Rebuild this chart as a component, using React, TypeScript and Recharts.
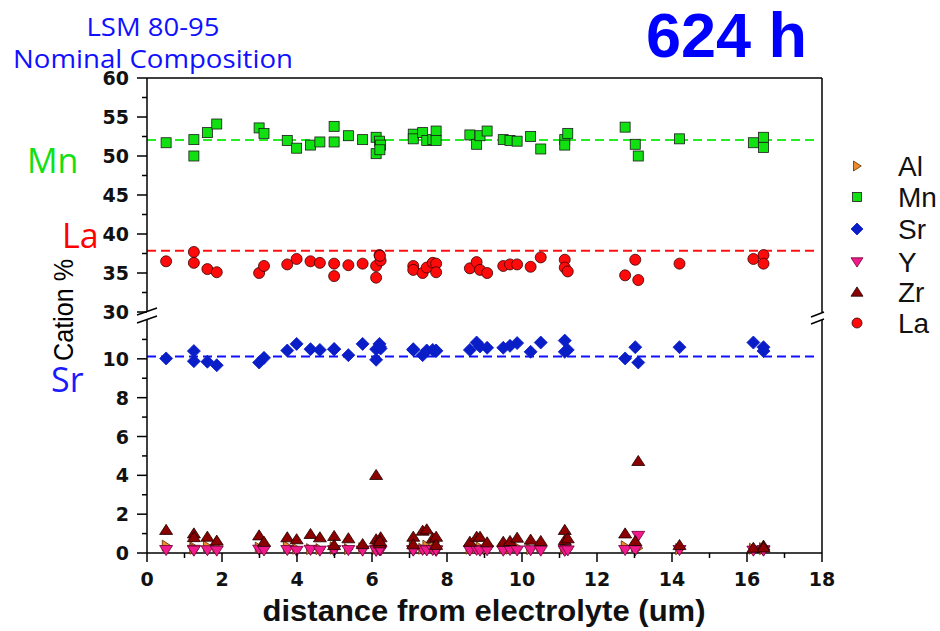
import React from 'react';
import { ScatterChart, Scatter, XAxis, YAxis, ReferenceLine } from 'recharts';

// measurement spots (um from electrolyte) and cation % per element
const distance = [
  0.51, 1.25, 1.25, 1.61, 1.86, 2.99, 3.12, 3.74, 3.99, 4.36,
  4.61, 4.99, 4.99, 5.37, 5.75, 6.11, 6.11, 6.2, 6.23, 6.21,
  7.1, 7.1, 7.35, 7.46, 7.62, 7.71, 7.71, 8.61, 8.79, 8.88,
  9.07, 9.5, 9.68, 9.87, 10.23, 10.5, 11.14, 11.14, 11.22, 12.75,
  13.02, 13.1, 14.2, 16.17, 16.44, 16.44,
];
const mn = [
  51.7, 52.1, 50.0, 53.0, 54.1, 53.6, 52.9, 52.0, 51.0, 51.4,
  51.8, 53.8, 51.8, 52.6, 52.1, 52.4, 50.3, 51.9, 51.4, 50.8,
  52.8, 52.2, 53.0, 52.0, 52.1, 53.2, 52.0, 52.7, 51.5, 52.6,
  53.2, 52.1, 52.0, 51.9, 52.5, 50.9, 52.1, 51.4, 52.9, 53.7,
  51.5, 50.0, 52.2, 51.7, 52.4, 51.1,
];
const la = [
  36.5, 37.7, 36.3, 35.5, 35.1, 35.0, 35.9, 36.1, 36.8, 36.5,
  36.3, 36.2, 34.6, 36.0, 36.2, 35.9, 34.4, 37.3, 36.6, 37.2,
  35.9, 35.4, 35.0, 35.7, 36.3, 36.2, 35.1, 35.6, 36.4, 35.4,
  35.0, 35.9, 36.1, 36.1, 35.8, 37.0, 36.7, 35.7, 35.2, 34.7,
  36.7, 34.1, 36.2, 36.8, 37.3, 36.2,
];
const sr = [
  10.02, 10.4, 9.88, 9.85, 9.67, 9.81, 10.05, 10.43, 10.77, 10.5,
  10.46, 10.5, 10.5, 10.19, 10.77, 9.95, 10.5, 10.77, 10.53, 10.62,
  10.46, 10.5, 10.19, 10.43, 10.46, 10.43, 10.4, 10.46, 10.84, 10.64,
  10.57, 10.57, 10.67, 10.81, 10.36, 10.84, 10.94, 10.36, 10.46, 10.02,
  10.6, 9.81, 10.6, 10.84, 10.6, 10.4,
];
const zr = [
  1.19, 1.01, 0.82, 0.84, 0.64, 0.91, 0.58, 0.81, 0.71, 0.98,
  0.81, 0.88, 0.41, 0.76, 0.46, 4.02, 0.71, 0.5, 0.81, 0.62,
  0.84, 0.45, 1.15, 1.22, 0.76, 0.84, 0.42, 0.58, 0.84, 0.84,
  0.55, 0.58, 0.62, 0.79, 0.69, 0.62, 1.19, 0.67, 0.76, 1.01,
  0.62, 4.74, 0.41, 0.27, 0.38, 0.29,
];
const yt = [
  0.15, 0.16, 0.12, 0.14, 0.12, 0.17, 0.13, 0.15, 0.11, 0.16,
  0.12, 0.14, 0.13, 0.15, 0.12, 0.16, 0.11, 0.14, 0.13, 0.17,
  0.15, 0.12, 0.16, 0.13, 0.15, 0.11, 0.14, 0.13, 0.16, 0.12,
  0.14, 0.12, 0.15, 0.13, 0.14, 0.12, 0.15, 0.11, 0.13, 0.15,
  0.14, 0.88, 0.15, 0.12, 0.14, 0.12,
];
const al = [
  0.38, 0.3, 0.22, 0.35, 0.3, 0.28, 0.25, 0.35, 0.22, 0.2,
  0.2, 0.22, 0.3, 0.2, 0.25, 0.28, 0.2, 0.22, 0.3, 0.25,
  0.32, 0.28, 0.22, 0.38, 0.25, 0.3, 0.2, 0.22, 0.25, 0.3,
  0.2, 0.25, 0.22, 0.3, 0.2, 0.35, 0.22, 0.25, 0.2, 0.35,
  0.3, 0.25, 0.2, 0.22, 0.2, 0.25,
];

// nominal composition of LSM 80-95
const mnNominal = 52.05;
const laNominal = 37.85;
const srNominal = 10.12;

const xTicks = [0, 1, 2, 3, 4, 5, 6, 7, 8, 9, 10, 11, 12, 13, 14, 15, 16, 17, 18];
const upperTicks = [30, 32.5, 35, 37.5, 40, 42.5, 45, 47.5, 50, 52.5, 55, 57.5, 60];
const lowerTicks = [0, 1, 2, 3, 4, 5, 6, 7, 8, 9, 10, 11];

const pts = (vals: number[]) => distance.map((x, i) => ({ x, y: vals[i] }));

type Kind = 'square' | 'circle' | 'diamond' | 'up' | 'down' | 'right';

const STYLE: Record<string, { kind: Kind; fill: string; stroke: string; size: number }> = {
  Al: { kind: 'right', fill: '#ee8a2c', stroke: '#5a3000', size: 11 },
  Mn: { kind: 'square', fill: '#11e011', stroke: '#1a1a1a', size: 10 },
  Sr: { kind: 'diamond', fill: '#0a1ec8', stroke: '#0a1ec8', size: 13 },
  Y: { kind: 'down', fill: '#f01a8c', stroke: '#6a0030', size: 13 },
  Zr: { kind: 'up', fill: '#8b0000', stroke: '#1a0000', size: 13 },
  La: { kind: 'circle', fill: '#ff0a0a', stroke: '#3a0000', size: 11 },
};

function Marker({ kind, cx, cy, size, fill, stroke }: any) {
  if (cx == null || cy == null) return null;
  const h = size / 2;
  const common = { fill, stroke, strokeWidth: 0.8 };
  switch (kind) {
    case 'square':
      return <rect x={cx - h} y={cy - h} width={size} height={size} {...common} />;
    case 'circle':
      return <circle cx={cx} cy={cy} r={h} {...common} />;
    case 'diamond':
      return <polygon points={`${cx},${cy - h} ${cx + h},${cy} ${cx},${cy + h} ${cx - h},${cy}`} {...common} />;
    case 'up':
      return <polygon points={`${cx},${cy - h * 0.85} ${cx + h},${cy + h * 0.7} ${cx - h},${cy + h * 0.7}`} {...common} />;
    case 'down':
      return <polygon points={`${cx},${cy + h * 0.85} ${cx + h},${cy - h * 0.7} ${cx - h},${cy - h * 0.7}`} {...common} />;
    default:
      return <polygon points={`${cx + h * 0.85},${cy} ${cx - h * 0.7},${cy - h} ${cx - h * 0.7},${cy + h}`} {...common} />;
  }
}

const shapeFor = (name: string) => (p: any) => <Marker {...STYLE[name]} cx={p.cx} cy={p.cy} />;

const tickFont = { fontFamily: 'DejaVu Sans', fontWeight: 700, fontSize: 19, fill: '#111' };
const isMajor = (v: number, step: number) => Math.abs(v / step - Math.round(v / step)) < 1e-6;

function YTick(props: any) {
  const { x, y, payload, step } = props;
  const v = payload.value;
  const major = isMajor(v, step);
  return (
    <g>
      <line x1={x - (major ? 10 : 5)} x2={x} y1={y} y2={y} stroke="#000" strokeWidth={1.5} />
      {major && (
        <text x={x - 18} y={y + 7} textAnchor="end" style={tickFont}>
          {v}
        </text>
      )}
    </g>
  );
}

function XTick(props: any) {
  const { x, y, payload } = props;
  const v = payload.value;
  const major = isMajor(v, 2);
  return (
    <g>
      <line x1={x} x2={x} y1={y} y2={y + (major ? 9 : 5)} stroke="#000" strokeWidth={1.5} />
      {major && (
        <text x={x} y={y + 33} textAnchor="middle" style={tickFont}>
          {v}
        </text>
      )}
    </g>
  );
}

const W = 940;
const H = 631;
const axisLine = { stroke: '#000', strokeWidth: 1.5 };
const frame = { stroke: '#000', strokeWidth: 1.5 };

const legendItems = ['Al', 'Mn', 'Sr', 'Y', 'Zr', 'La'];
const legendY = [166, 197, 229, 262, 292, 323];

export default function App() {
  const abs: React.CSSProperties = { position: 'absolute', left: 0, top: 0 };
  return (
    <div style={{ position: 'absolute', left: 0, top: 0, width: W, height: H, background: '#fff' }}>
      {/* lower segment: 0 - 12 */}
      <div style={abs}>
        <ScatterChart width={W} height={H} margin={{ top: 320, right: 118, bottom: 18, left: 87 }}>
          <XAxis
            type="number"
            dataKey="x"
            domain={[0, 18]}
            ticks={xTicks}
            interval={0}
            height={60}
            tickSize={0}
            tickMargin={0}
            tickLine={false}
            axisLine={axisLine}
            tick={(p: any) => <XTick {...p} />}
          />
          <YAxis
            type="number"
            dataKey="y"
            domain={[0, 12]}
            ticks={lowerTicks}
            interval={0}
            width={60}
            tickSize={0}
            tickMargin={0}
            tickLine={false}
            axisLine={axisLine}
            tick={(p: any) => <YTick {...p} step={2} />}
          />
          <ReferenceLine x={18} {...frame} />
          <ReferenceLine
            segment={[{ x: 0, y: srNominal }, { x: 17.8, y: srNominal }]}
            stroke="#1010ff"
            strokeWidth={2}
            strokeDasharray="9 5"
          />
          <Scatter name="Al" data={pts(al)} shape={shapeFor('Al')} isAnimationActive={false} />
          <Scatter name="Sr" data={pts(sr)} shape={shapeFor('Sr')} isAnimationActive={false} />
          <Scatter name="Y" data={pts(yt)} shape={shapeFor('Y')} isAnimationActive={false} />
          <Scatter name="Zr" data={pts(zr)} shape={shapeFor('Zr')} isAnimationActive={false} />
        </ScatterChart>
      </div>

      {/* upper segment: 30 - 60 */}
      <div style={abs}>
        <ScatterChart width={W} height={H} margin={{ top: 78, right: 118, bottom: 319, left: 87 }}>
          <XAxis type="number" dataKey="x" domain={[0, 18]} hide />
          <YAxis
            type="number"
            dataKey="y"
            domain={[30, 60]}
            ticks={upperTicks}
            interval={0}
            width={60}
            tickSize={0}
            tickMargin={0}
            tickLine={false}
            axisLine={axisLine}
            tick={(p: any) => <YTick {...p} step={5} />}
          />
          <ReferenceLine y={60} {...frame} />
          <ReferenceLine x={18} {...frame} />
          <ReferenceLine
            segment={[{ x: 0, y: mnNominal }, { x: 17.8, y: mnNominal }]}
            stroke="#22ee22"
            strokeWidth={2}
            strokeDasharray="9 5"
          />
          <ReferenceLine
            segment={[{ x: 0, y: laNominal }, { x: 17.8, y: laNominal }]}
            stroke="#ff1010"
            strokeWidth={2}
            strokeDasharray="9 5"
          />
          <Scatter name="Mn" data={pts(mn)} shape={shapeFor('Mn')} isAnimationActive={false} />
          <Scatter name="La" data={pts(la)} shape={shapeFor('La')} isAnimationActive={false} />
        </ScatterChart>
      </div>

      {/* titles, axis break, labels, legend */}
      <svg width={W} height={H} style={{ ...abs, pointerEvents: 'none' }}>
        <g stroke="#000" strokeWidth={1.5}>
          <line x1={137} y1={315} x2={157} y2={308} />
          <line x1={137} y1={323} x2={157} y2={316} />
          <line x1={811} y1={317} x2={824} y2={312} />
          <line x1={811} y1={324} x2={824} y2={319} />
        </g>
        <g fontFamily="'Open Sans', 'Noto Sans', sans-serif" fill="#1010ff">
          <text x={153} y={36} fontSize={25} textAnchor="middle" textLength={133} lengthAdjust="spacingAndGlyphs">
            LSM 80-95
          </text>
          <text x={13} y={68} fontSize={25} textLength={280} lengthAdjust="spacingAndGlyphs">
            Nominal Composition
          </text>
        </g>
        <text x={646} y={57} fontSize={63} fontWeight={700} fontFamily="'Liberation Sans', Arial" fill="#0000ff">
          624 h
        </text>
        <g fontFamily="'Open Sans', 'Noto Sans', sans-serif" fontSize={34}>
          <text x={27} y={173} fill="#11e011">Mn</text>
          <text x={62} y={248} fill="#ff0000">La</text>
          <text x={51} y={392} fill="#1a1aff">Sr</text>
        </g>
        <text
          transform="translate(73 310) rotate(-90)"
          textAnchor="middle"
          fontFamily="'Liberation Sans', Arial"
          fontSize={27}
          fill="#000"
          textLength={102}
          lengthAdjust="spacingAndGlyphs"
        >
          Cation %
        </text>
        <text
          x={484}
          y={621}
          textAnchor="middle"
          fontFamily="'Liberation Sans', Arial"
          fontSize={29}
          fontWeight={700}
          fill="#111"
          textLength={443}
          lengthAdjust="spacingAndGlyphs"
        >
          distance from electrolyte (um)
        </text>
        {legendItems.map((name, i) => (
          <g key={name}>
            <Marker {...STYLE[name]} cx={857} cy={legendY[i]} size={STYLE[name].size - 1} />
            <text x={898} y={legendY[i] + 10} fontFamily="'Liberation Sans', Arial" fontSize={28} fill="#111">
              {name}
            </text>
          </g>
        ))}
      </svg>
    </div>
  );
}
